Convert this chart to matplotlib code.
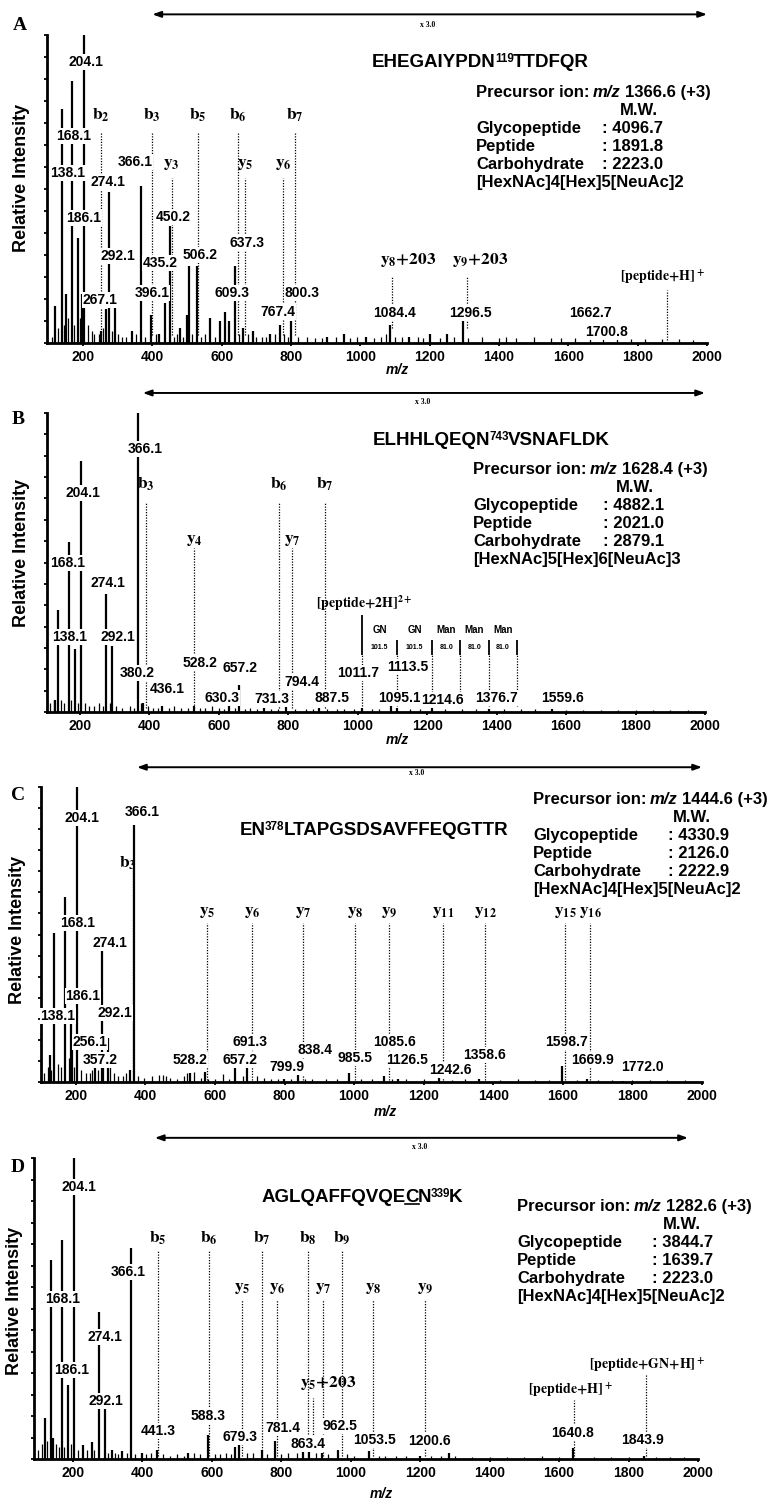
import numpy as np
import matplotlib.pyplot as plt
from matplotlib.lines import Line2D

plt.rcParams['font.family'] = ['Liberation Sans', 'DejaVu Sans']
plt.rcParams['mathtext.fontset'] = 'stix'

W, H = 780, 1501
fig = plt.figure(figsize=(W / 100, H / 100), dpi=100)

# ---------------- data: panel A ----------------
a_mz = [120, 138.1, 150, 168.1, 186.1, 197, 204.1, 252, 267.1, 274.1, 292.1, 340, 366.1, 396.1,
        420, 435.2, 450.2, 479, 499, 506.2, 528, 567, 595, 609.3, 620, 637.3, 661, 690, 740,
        767.4, 800.3, 905, 953, 1017, 1084.4, 1140, 1200, 1250, 1296.5]
a_int = [12, 76, 16, 85, 34, 16, 100, 4, 11, 49, 14, 4, 51, 9,
         3, 13, 38, 5, 9, 25, 25, 8, 7, 10, 7, 25, 5, 4, 3,
         6, 7, 2, 3, 2, 6, 2, 3, 3, 7]
a_noise_mz = [110, 128, 145, 158, 175, 192, 215, 225, 233, 245, 258, 284, 300, 312, 325, 352, 380,
              410, 462, 470, 488, 515, 540, 553, 580, 650, 675, 700, 715, 728, 755, 780, 790, 820,
              845, 870, 890, 930, 970, 990, 1040, 1060, 1075, 1100, 1120, 1165, 1180, 1230, 1270,
              1310, 1350, 1400, 1420, 1450, 1500, 1550, 1580, 1620, 1662.7, 1700.8, 1740, 1780,
              1820, 1870, 1920, 1960]
a_noise_int = [2, 5, 6, 8, 6, 8, 6, 4, 3, 3, 5, 4, 3, 2, 2, 3, 2,
               3, 2, 3, 2, 3, 2, 3, 2, 3, 3, 2, 2, 2, 3, 3, 2, 2,
               2, 1.5, 1.5, 2, 1.5, 2, 1.5, 2, 3, 2, 2, 2, 1.5, 1.5, 2,
               1.5, 2, 1.5, 2, 1.5, 2, 1.5, 1.5, 1.5, 1.5, 1.5, 1.5, 1.2,
               1.2, 1.2, 1.2, 1]
a_labels = ['204.1', '168.1', '138.1', '274.1', '366.1', '186.1', '450.2', '292.1', '435.2', '506.2',
            '637.3', '267.1', '396.1', '609.3', '800.3', '767.4', '1084.4', '1296.5', '1662.7', '1700.8']
a_ions = ['b_2', 'b_3', 'b_5', 'b_6', 'b_7', 'y_3', 'y_5', 'y_6', 'y_8{+}203', 'y_9{+}203',
          '[peptide{+}H]^+']
a_ion_mz = [252, 398, 532, 648, 811, 456, 667, 778, 1092, 1307, 1884]
a_seq = [('EHEGAIYPDN', ''), ('119', 'sup'), ('TTDFQR', '')]
a_prec = '1366.6 (+3)'
a_mw = ['4096.7', '1891.8', '2223.0']
a_comp = '[HexNAc]4[Hex]5[NeuAc]2'

# ---------------- data: panel B ----------------
b_mz = [128, 138.1, 168.1, 186.1, 204.1, 274.1, 292.1, 366.1, 380.2, 436.1, 528.2, 630.3, 657.2,
        731.3, 794.4, 887.5, 1011.7, 1095.1, 1113.5, 1214.6, 1376.7, 1559.6]
b_int = [4, 34, 57, 21, 84, 39.5, 22, 100, 3, 2, 2, 2, 9,
         1.5, 2, 1.5, 1.5, 4, 1.5, 1.5, 1, 1]
b_noise_mz = [115, 125, 145, 155, 175, 195, 215, 225, 240, 255, 265, 285, 305, 320, 345, 355, 375,
              395, 410, 425, 455, 470, 490, 510, 545, 560, 580, 600, 615, 645, 675, 690, 710, 750,
              770, 820, 850, 870, 910, 940, 960, 990, 1040, 1060, 1150, 1180, 1250, 1300, 1340,
              1420, 1470, 1510, 1600, 1650, 1700, 1750, 1800, 1850, 1900, 1950]
b_noise_int = [3, 4, 4, 3, 4, 3, 3, 2, 2, 3, 2, 3, 2, 1.5, 2, 1.5, 3,
               2, 1.5, 1.5, 1.5, 2, 1.5, 1.5, 1.5, 1.5, 2, 1.5, 1, 1.5, 1, 1.5, 1, 1,
               1, 1, 1, 1, 1, 1, 1, 1, 1, 1, 1, 1, 1, 1, 1,
               1, 1, 1, 0.8, 0.8, 0.8, 0.8, 0.8, 0.8, 0.8, 0.8]
b_labels = ['366.1', '204.1', '168.1', '274.1', '138.1', '292.1', '380.2', '528.2', '657.2', '436.1',
            '630.3', '794.4', '731.3', '887.5', '1011.7', '1113.5', '1095.1', '1214.6', '1376.7', '1559.6']
b_ions = ['b_3', 'b_6', 'b_7', 'y_4', 'y_7']
b_ion_mz = [390, 773, 906, 528, 811]
b_glyco_start = 1011.7
b_glyco_names = ['GN', 'GN', 'Man', 'Man', 'Man']
b_glyco_delta = [101.5, 101.5, 81.0, 81.0, 81.0]
b_seq = [('ELHHLQEQN', ''), ('743', 'sup'), ('VSNAFLDK', '')]
b_prec = '1628.4 (+3)'
b_mw = ['4882.1', '2021.0', '2879.1']
b_comp = '[HexNAc]5[Hex]6[NeuAc]3'

# ---------------- data: panel C ----------------
c_mz = [125, 138.1, 168.1, 186.1, 188, 204.1, 256.1, 274.1, 292.1, 357.2, 366.1, 528.2, 571, 657.2,
        691.3, 799.9, 838.4, 985.5, 1085.6, 1126.5, 1242.6, 1358.6, 1598.7, 1669.9, 1772.0]
c_int = [9, 50.5, 62.7, 20, 11, 100, 8, 44.7, 15, 4, 87, 3, 3.4, 8,
         5.4, 1, 2.7, 3, 2, 1, 2.4, 1, 5.4, 1, 0.5]
c_noise_mz = [110, 120, 130, 150, 158, 180, 195, 215, 228, 240, 248, 265, 278, 298, 310, 320, 335,
              345, 380, 395, 420, 440, 450, 460, 470, 490, 510, 520, 540, 560, 580, 600, 623, 640,
              680, 720, 740, 760, 780, 820, 860, 880, 920, 950, 1020, 1050, 1110, 1150, 1200, 1280,
              1320, 1420, 1470, 1520, 1560, 1640, 1700, 1740, 1800, 1850, 1900, 1950]
c_noise_int = [3, 5, 4, 6, 5, 8, 5, 4, 3, 3, 4, 4, 7, 7, 3, 2, 2,
               3, 2, 1.5, 2, 2.5, 2.5, 2, 1.5, 1, 2, 3, 3.5, 1.5, 1, 1, 2.7, 1,
               2, 2, 1.5, 1, 1, 1, 1, 1, 1, 1, 1, 1, 1, 1, 1, 0.8,
               1, 0.8, 1, 0.8, 0.8, 0.8, 0.8, 0.8, 0.8, 0.8, 0.8, 0.8]
c_labels = ['204.1', '366.1', '168.1', '274.1', '186.1', '138.1', '292.1', '256.1', '357.2', '528.2',
            '657.2', '691.3', '838.4', '799.9', '985.5', '1085.6', '1126.5', '1242.6', '1358.6',
            '1598.7', '1669.9', '1772.0']
c_ions = ['b_3', 'y_5', 'y_6', 'y_7', 'y_8', 'y_9', 'y_{11}', 'y_{12}', 'y_{15}', 'y_{16}']
c_ion_mz = [364.5, 577, 706.5, 853, 1002.6, 1100, 1255.5, 1376, 1606, 1678]
c_seq = [('EN', ''), ('378', 'sup'), ('LTAPGSDSAVFFEQGTTR', '')]
c_prec = '1444.6 (+3)'
c_mw = ['4330.9', '2126.0', '2222.9']
c_comp = '[HexNAc]4[Hex]5[NeuAc]2'

# ---------------- data: panel D ----------------
d_mz = [119, 138.1, 142, 168.1, 186.1, 204.1, 229, 254, 274.1, 292.1, 312, 341, 366.1, 399, 441.3,
        532, 588.3, 667, 679.3, 745, 781.4, 863.4, 880, 918, 962.5, 1053.5, 1200.6, 1282, 1640.8,
        1843.9]
d_int = [13.6, 66, 7, 72.8, 24.6, 100, 4.6, 5.6, 49, 19.6, 3, 2.5, 70, 2, 3,
         2, 8, 4, 6.5, 3, 6, 4, 4, 2, 3, 2.5, 1, 2, 3.6,
         1]
d_noise_mz = [100, 112, 125, 150, 160, 175, 195, 215, 240, 262, 300, 320, 330, 355, 380, 410, 425,
              460, 480, 500, 520, 550, 565, 610, 625, 640, 655, 700, 720, 760, 800, 820, 845, 900,
              935, 990, 1010, 1080, 1100, 1130, 1160, 1230, 1260, 1300, 1350, 1400, 1450, 1500,
              1550, 1600, 1700, 1750, 1800, 1880, 1920, 1960]
d_noise_int = [3, 5, 6, 5, 4, 4, 5, 3, 3, 3, 2, 2, 1.5, 2, 1.5, 1.5, 2,
               1.5, 1, 1.5, 1, 2, 1.5, 1.5, 1.5, 2, 1.5, 2, 2, 1.5, 1.5, 2, 2, 2,
               1.5, 1.5, 1, 1, 1, 1, 1, 1, 1, 1, 0.8, 0.8, 0.8, 0.8,
               1, 0.8, 0.8, 0.8, 0.8, 0.8, 0.8, 0.8]
d_labels = ['204.1', '168.1', '366.1', '274.1', '186.1', '292.1', '441.3', '588.3', '679.3', '781.4',
            '863.4', '962.5', '1053.5', '1200.6', '1640.8', '1843.9']
d_ions = ['b_5', 'b_6', 'b_7', 'b_8', 'b_9', 'y_5', 'y_6', 'y_7', 'y_8', 'y_9', 'y_5{+}203',
          '[peptide{+}H]^+', '[peptide{+}GN{+}H]^+']
d_ion_mz = [445, 592, 744.5, 877, 975, 687, 788, 920, 1064, 1214, 891, 1643, 1850]
d_seq = [('AGLQAFFQVQE', ''), ('C', 'ul'), ('N', ''), ('339', 'sup'), ('K', '')]
d_prec = '1282.6 (+3)'
d_mw = ['3844.7', '1639.7', '2223.0']
d_comp = '[HexNAc]4[Hex]5[NeuAc]2'

# ---------------- layout (pixels of the 780x1501 image) ----------------
# axes box: left, right, top, bottom (px) and x-axis start
boxes = [(47, 707, 35, 343, 96), (47, 705, 413, 712, 105), (41, 702, 787, 1082, 100),
         (34, 698, 1158, 1459, 88)]
label_px = [
    [(86, 62), (74, 136), (68, 173), (108, 182), (135, 162), (84, 218), (173, 217), (118, 256),
     (160, 263), (200, 255), (247, 243), (100, 300), (152, 293), (232, 293), (302, 293), (278, 312),
     (395, 313), (470, 313), (590, 313), (607, 332)],
    [(145, 449), (83, 493), (68, 563), (108, 583), (70, 637), (118, 637), (137, 673), (200, 663),
     (240, 668), (167, 689), (222, 698), (302, 682), (272, 699), (332, 698), (358, 673), (408, 667),
     (400, 698), (442, 700), (497, 698), (562, 698)],
    [(82, 818), (142, 812), (78, 923), (110, 943), (83, 996), (58, 1016), (115, 1013), (90, 1042),
     (100, 1060), (190, 1060), (240, 1060), (250, 1042), (315, 1050), (287, 1067), (355, 1058),
     (395, 1042), (407, 1060), (450, 1070), (485, 1055), (567, 1042), (592, 1060), (642, 1067)],
    [(79, 1187), (63, 1299), (128, 1272), (105, 1337), (72, 1370), (106, 1401), (158, 1431),
     (208, 1416), (240, 1437), (283, 1428), (308, 1444), (340, 1426), (374, 1440), (429, 1441),
     (572, 1433), (643, 1440)],
]
# ion annotation: label y (%), dotted top (%), dotted bottom (%), label x shift (px)
ion_style = [
    [(74, 68.5, 2.6, 0)] * 5 + [(57.8, 53.6, 2.6, 0)] * 3 + [(27, 21.4, 4.9, 16), (27, 21.4, 4.9, 13),
                                                          (21.4, 17.2, 1, -4)],
    [(76, 70, 1.3, 0)] * 3 + [(57.5, 55, 1.3, 0)] * 2,
    [(74.2, 72.5, 0.7, -5)] + [(57.3, 53.9, 0.7, 0)] * 9,
    [(73.4, 69.4, 1, 0)] * 5 + [(56.5, 52.8, 1, 0)] * 5 + [(25.2, 20.3, 6.3, 15), (22.9, 19.6, 1, -4),
                                                        (31.2, 27.9, 1, 1)],
]
arrow_span = [(400, 2000), (381, 2000), (376, 2000), (436, 1971)]
letter_px = [(20, 25), (18, 420), (18, 795), (18, 1167)]
ylab_px = [(22, 178), (22, 553), (18, 930), (15, 1301)]
xlab_px = [(397, 370), (397, 740), (385, 1112), (381, 1494)]
mag_px = [(428, 25), (423, 402), (417, 773), (420, 1147)]
seq_px = [(372, 60), (373, 438), (240, 828), (262, 1195)]
prec_px = [(476, 91, 620, 602), (473, 468, 616, 603), (533, 798, 673, 668), (517, 1205, 663, 652)]

rend = fig.canvas.get_renderer()


def fx(px):
    return px / W


def fy(py):
    return 1 - py / H


def rich(px, py, parts, size):
    # py is the centre of capital letters
    cap = 0.716 * size * 100 / 72
    base = py + cap / 2
    x = px
    for s, kind in parts:
        if kind == 'gap':
            x += 0.278 * size * 100 / 72
            continue
        fs = size * 0.62 if kind == 'sup' else size
        dy = cap - 0.716 * fs * 100 / 72 if kind == 'sup' else 0
        t = fig.text(fx(x), fy(base - dy), s, fontsize=fs, fontweight='bold',
                     fontstyle='italic' if kind == 'it' else 'normal', ha='left', va='baseline')
        bb = t.get_window_extent(rend)
        if kind == 'ul':
            fig.add_artist(Line2D([fx(x), fx(x + bb.width)], [fy(base + 2.5)] * 2, lw=1.2, color='k'))
        x += bb.width - 1


panels = [
    (a_mz, a_int, a_noise_mz, a_noise_int, a_labels, a_ions, a_ion_mz, a_seq, a_prec, a_mw, a_comp),
    (b_mz, b_int, b_noise_mz, b_noise_int, b_labels, b_ions, b_ion_mz, b_seq, b_prec, b_mw, b_comp),
    (c_mz, c_int, c_noise_mz, c_noise_int, c_labels, c_ions, c_ion_mz, c_seq, c_prec, c_mw, c_comp),
    (d_mz, d_int, d_noise_mz, d_noise_int, d_labels, d_ions, d_ion_mz, d_seq, d_prec, d_mw, d_comp),
]

for i, (mz, inten, nmz, nint, labs, ions, ion_mz, seq, prec, mw, comp) in enumerate(panels):
    l, r, t, b, xmin = boxes[i]
    ax = fig.add_axes([l / W, 1 - b / H, (r - l) / W, (b - t) / H])
    ax.set_xlim(xmin, 2000)
    ax.set_ylim(0, 100)
    ax.vlines(nmz, 0, nint, color='k', lw=0.9)
    ax.vlines(mz, 0, inten, color='k', lw=1.6)
    for s in ['top', 'right']:
        ax.spines[s].set_visible(False)
    ax.spines['left'].set_linewidth(2)
    ax.spines['bottom'].set_linewidth(2)
    ax.set_xticks(np.arange(200, 2001, 200))
    ax.set_yticks(np.linspace(0, 100, 15))
    ax.set_yticklabels([])
    ax.tick_params(axis='y', length=2.5, width=1.3, direction='out')
    ax.tick_params(axis='x', length=2, width=1.3, pad=3, labelsize=10)
    for tl in ax.get_xticklabels():
        tl.set_fontweight('bold')

    # dotted fragment-ion lines and their names
    for name, m, (ly, top, bot, dx) in zip(ions, ion_mz, ion_style[i]):
        ax.vlines(m, bot, top, color='k', lw=0.9, linestyles=(0, (1, 1.2)))
        small = 'peptide' in name
        ax.annotate(r'$\mathbf{' + name + '}$', xy=(m, ly), xytext=(dx * 0.72, 0),
                    textcoords='offset points', ha='center', va='center',
                    fontsize=10 if small else 12.5, annotation_clip=False)

    # magnification arrow
    lo, hi = arrow_span[i]
    ax.annotate('', xy=(hi, 1.067), xytext=(lo, 1.067), xycoords=ax.get_xaxis_transform(),
                arrowprops=dict(arrowstyle='<|-|>,head_length=0.5,head_width=0.18', lw=1.4,
                                color='k', shrinkA=0, shrinkB=0), annotation_clip=False)
    fig.text(fx(mag_px[i][0]), fy(mag_px[i][1]), 'x 3.0', fontsize=5.5, fontweight='bold',
             family='Liberation Serif', ha='center', va='center')

    # peak labels
    for s, (px, py) in zip(labs, label_px[i]):
        fig.text(fx(px), fy(py), s, fontsize=10, fontweight='bold', ha='center', va='center',
                 bbox=dict(boxstyle='square,pad=0.05', fc='white', ec='none'))

    fig.text(fx(letter_px[i][0]), fy(letter_px[i][1]), 'ABCD'[i], fontsize=14, fontweight='bold',
             family='Liberation Serif', ha='center', va='center')
    fig.text(fx(ylab_px[i][0]), fy(ylab_px[i][1]), 'Relative Intensity', fontsize=13,
             fontweight='bold', rotation=90, ha='center', va='center')
    fig.text(fx(xlab_px[i][0]), fy(xlab_px[i][1]), 'm/z', fontsize=10, fontweight='bold',
             fontstyle='italic', ha='center', va='center')

    # peptide sequence and precursor information
    rich(seq_px[i][0], seq_px[i][1], seq, 13.5)
    px0, py0, mwx, valx = prec_px[i]
    rich(px0, py0, [('Precursor ion:', ''), ('', 'gap'), ('m/z', 'it'), ('', 'gap'), (prec, '')], 12)
    rich(mwx, py0 + 18, [('M.W.', '')], 12)
    for k, name in enumerate(['Glycopeptide', 'Peptide', 'Carbohydrate']):
        rich(px0, py0 + 36 + 18 * k, [(name, '')], 12)
        rich(valx, py0 + 36 + 18 * k, [(': ' + mw[k], '')], 12)
    rich(px0, py0 + 90, [(comp, '')], 12)

    if i == 1:
        # glycan ladder of the doubly charged peptide ion
        seps = b_glyco_start + np.concatenate([[0], np.cumsum(b_glyco_delta)])
        ax.vlines(seps[0], 19, 32.4, color='k', lw=1.3)
        ax.vlines(seps[1:], 19, 24, color='k', lw=1.3)
        ax.vlines(seps, 2, 19, color='k', lw=0.9, linestyles=(0, (1, 1.2)))
        mids = (seps[:-1] + seps[1:]) / 2
        for m, nm, dv in zip(mids, b_glyco_names, b_glyco_delta):
            ax.text(m, 27.4, nm, fontsize=7, fontweight='bold', ha='center', va='center')
            ax.text(m, 21.7, f'{dv:.1f}', fontsize=5, fontweight='bold', ha='center', va='center')
        ax.text(1020, 36.5, r'$\mathbf{[peptide{+}2H]^{2+}}$', fontsize=10, ha='center',
                va='center')

fig.savefig('out.png', dpi=100)
